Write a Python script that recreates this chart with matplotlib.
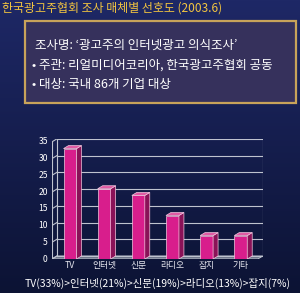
import numpy as np
import matplotlib.pyplot as plt
from matplotlib.patches import Polygon, FancyBboxPatch
from matplotlib.colors import LinearSegmentedColormap

plt.rcParams['font.family'] = ['Noto Sans CJK KR', 'DejaVu Sans']

categories = ['TV', '인터넷', '신문', '라디오', '잡지', '기타']
values = [33, 21, 19, 13, 7, 7]
title = '한국광고주협회 조사 매체별 선호도 (2003.6)'
box_lines = ['조사명: ‘광고주의 인터넷광고 의식조사’',
             '• 주관: 리얼미디어코리아, 한국광고주협회 공동',
             '• 대상: 국내 86개 기업 대상']
summary = 'TV(33%)>인터넷(21%)>신문(19%)>라디오(13%)>잡지(7%)'

fig = plt.figure(figsize=(3.0, 2.93), dpi=100)

# background gradient
bg = fig.add_axes([0, 0, 1, 1])
grad = np.linspace(0, 1, 256).reshape(-1, 1)
cmap = LinearSegmentedColormap.from_list('bg', ['#1e2866', '#0c1334'])
bg.imshow(grad, aspect='auto', cmap=cmap, extent=[0, 1, 0, 1], origin='upper')
bg.set_xlim(0, 1)
bg.set_ylim(0, 1)
bg.axis('off')

bg.text(0.008, 0.972, title, color='#f2c440', fontsize=8.6, va='center', ha='left')

box = FancyBboxPatch((0.083, 0.648), 0.903, 0.28, boxstyle='square,pad=0',
                     facecolor='#36315c', edgecolor='#c8a35a', linewidth=1.6)
bg.add_patch(box)
ys = [0.846, 0.778, 0.710]
xs = [0.118, 0.108, 0.108]
for x, y, t in zip(xs, ys, box_lines):
    bg.text(x, y, t, color='white', fontsize=9.0, va='center', ha='left')

bg.text(0.525, 0.034, summary, color='white', fontsize=7.5, va='center', ha='center')

# bar chart (pseudo 3D)
ax = fig.add_axes([0.173, 0.116, 0.703, 0.41])
ax.set_facecolor('none')
x_lo, x_hi = -0.53, 5.5
dxb, dyb = 0.146, 0.9
ax.set_xlim(x_lo, x_hi + dxb)
ax.set_ylim(0, 35 + dyb)
ax.axis('off')

grid_c = '#bfc3cf'
# floor
ax.add_patch(Polygon([(x_lo, 0), (x_hi, 0), (x_hi + dxb, dyb), (x_lo + dxb, dyb)],
                     facecolor='#6c7288', edgecolor=grid_c, lw=0.7, zorder=1))
# back wall grid, left wall ticks
for k in range(0, 36, 5):
    ax.plot([x_lo + dxb, x_hi + dxb], [k + dyb, k + dyb], color=grid_c, lw=0.8, zorder=1)
    ax.plot([x_lo, x_lo + dxb], [k, k + dyb], color=grid_c, lw=0.8, zorder=1)
    ax.text(x_lo - 0.12, k, str(k), color='white', fontsize=6.2, ha='right', va='center')
ax.plot([x_lo, x_lo], [0, 35], color=grid_c, lw=0.8, zorder=1)
ax.plot([x_lo + dxb, x_lo + dxb], [dyb, 35 + dyb], color=grid_c, lw=0.8, zorder=1)
ax.plot([x_hi + dxb, x_hi + dxb], [dyb, 35 + dyb], color=grid_c, lw=0.8, zorder=1)

w = 0.38
front = '#d81e8c'
side = '#8a1258'
topc = '#e05aa4'
edge = '#f2c6de'
for i, v in enumerate(values):
    x0 = i - w / 2
    ax.add_patch(Polygon([(x0, 0), (x0 + w, 0), (x0 + w, v), (x0, v)],
                         facecolor=front, edgecolor=edge, lw=0.5, zorder=3))
    ax.add_patch(Polygon([(x0 + w, 0), (x0 + w + dxb, dyb), (x0 + w + dxb, v + dyb), (x0 + w, v)],
                         facecolor=side, edgecolor=edge, lw=0.5, zorder=3))
    ax.add_patch(Polygon([(x0, v), (x0 + w, v), (x0 + w + dxb, v + dyb), (x0 + dxb, v + dyb)],
                         facecolor=topc, edgecolor=edge, lw=0.5, zorder=3))
    ax.text(i, -0.6, categories[i], color='#e8e8f0', fontsize=6.3, ha='center', va='top')

fig.savefig('out.png', dpi=100)
